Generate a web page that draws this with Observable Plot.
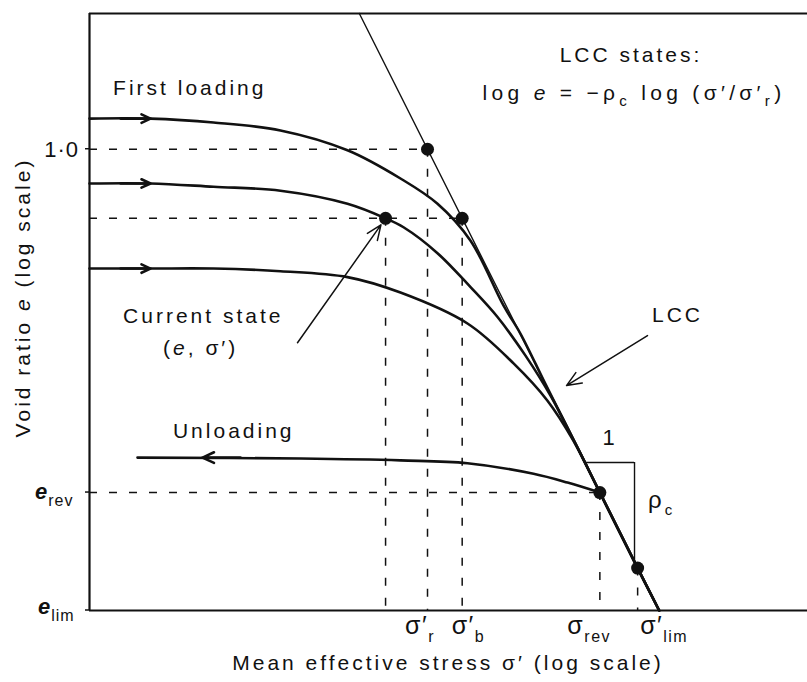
<!DOCTYPE html>
<html>
<head>
<meta charset="utf-8">
<script src="https://cdn.jsdelivr.net/npm/d3@7"></script>
<script src="https://cdn.jsdelivr.net/npm/@observablehq/plot@0.6"></script>
<style>
  html, body { margin: 0; padding: 0; background: #fff; }
  #chart svg { display: block; }
</style>
</head>
<body>
<div id="chart"></div>
<script>
// Limiting compression curve (LCC) model: log e = -ρc log(σ'/σ'r)
const rhoC = 0.4;
const stressDomain = [38.7, 38700];   // σ' (log scale)
const voidDomain = [0.41, 1.3];       // e  (log scale)

// Named states
const sigmaR = 1000, sigmaB = 1396, sigmaRev = 5250, sigmaLim = 7550;
const eOne = 1.0, eCurrent = 0.875, eRev = 0.515, eLim = 0.41, eAtSigmaLim = 0.445;
const sigmaCurrent = 668;

// LCC straight line, from the top of the frame to e_lim
const lccStress = [519, 9291];
const lccVoid = [1.3, 0.41];

// First-loading paths (each joins the LCC)
const load1Stress = [38.7, 69.6, 127.6, 243, 463, 771, 1101, 1513, 2079, 2447, 3112, 4153, 5250, 7550, 9291];
const load1Void   = [1.061, 1.061, 1.053, 1.037, 0.998, 0.945, 0.900, 0.838, 0.739, 0.700, 0.635, 0.566, 0.515, 0.445, 0.41];
const load2Stress = [38.7, 69.6, 127.6, 243, 463, 668, 794, 1101, 1513, 1961, 2567, 3266, 4153, 5250, 7550, 9291];
const load2Void   = [0.936, 0.936, 0.930, 0.923, 0.900, 0.875, 0.860, 0.818, 0.766, 0.723, 0.671, 0.621, 0.566, 0.515, 0.445, 0.41];
const load3Stress = [38.7, 69.6, 127.6, 243, 463, 771, 1469, 2288, 3172, 4074, 5250, 7550, 9291];
const load3Void   = [0.794, 0.794, 0.794, 0.790, 0.781, 0.758, 0.714, 0.661, 0.615, 0.569, 0.515, 0.445, 0.41];

// Unloading path from the reversal point
const unloadStress = [61.4, 295, 771, 1469, 2773, 3846, 5250];
const unloadVoid   = [0.551, 0.550, 0.548, 0.545, 0.534, 0.525, 0.515];

// Direction arrows on the paths
const loadArrowFrom = 52.2, loadArrowTo = 69.6;
const loadArrowVoid = [1.061, 0.936, 0.794];
const unloadArrowFrom = 165.4, unloadArrowTo = 114.8, unloadArrowVoid = 0.551;

// Marked states
const stateStress = [sigmaR, sigmaB, sigmaCurrent, sigmaRev, sigmaLim];
const stateVoid   = [eOne, eCurrent, eCurrent, eRev, eAtSigmaLim];

// Dashed guides
const guideHVoid = [eOne, eCurrent, eRev];
const guideHStress = [sigmaR, sigmaB, sigmaRev];
const guideVStress = [sigmaCurrent, sigmaR, sigmaB, sigmaRev, sigmaLim];
const guideVVoid = [eCurrent, eOne, eCurrent, eRev, eAtSigmaLim];

// Slope triangle on the LCC (run 1, rise ρc)
const triStress = [4545, 7327];
const triVoid = [0.5458, 0.4508];

// Axis tick labels ("|" separates the subscript)
const stressTicks = [sigmaR, sigmaB, sigmaRev, sigmaLim];
const stressTickLabels = ["σ′|r", "σ′|b", "σ|rev", "σ′|lim"];
const voidTicks = [eOne, eRev, eLim];
const voidTickLabels = ["1·0", "e|rev", "e|lim"];

const ink = "#111";
const font = "'Liberation Sans', Arial, Helvetica, sans-serif";
const dash = "8,12";

const zip = (xs, ys) => xs.map((x, i) => ({s: x, e: ys[i]}));

// Text with italic / subscript runs
function richText(g, x, y, parts, o = {}) {
  const size = o.size ?? 21;
  const subSize = o.subSize ?? size * 0.72;
  const t = g.append("text")
    .attr("x", x).attr("y", y)
    .attr("text-anchor", o.anchor ?? "start")
    .attr("font-size", size);
  if (o.spacing != null) t.style("letter-spacing", o.spacing + "px");
  if (o.rotate) t.attr("transform", `rotate(${o.rotate},${x},${y})`);
  let shift = 0;
  for (const p of parts) {
    const [str, kind = ""] = Array.isArray(p) ? p : [p];
    const flags = kind.split(" ");
    const sub = flags.includes("sub");
    const target = sub ? size * 0.3 : 0;
    const span = t.append("tspan").text(str);
    if (target !== shift) { span.attr("dy", target - shift); shift = target; }
    if (sub) span.attr("font-size", subSize);
    if (flags.includes("it")) span.attr("font-style", "italic");
    if (flags.includes("bold")) span.attr("font-weight", "bold");
  }
  return t;
}

function labels(index, scales, values, dims) {
  const {x, y} = scales;
  const g = d3.create("svg:g")
    .attr("fill", ink)
    .attr("font-family", font)
    .style("letter-spacing", "3px");
  const left = dims.marginLeft;
  const bottom = dims.height - dims.marginBottom;

  // y ticks and labels
  for (let i = 0; i < voidTicks.length; i++) {
    const py = y(voidTicks[i]);
    g.append("line").attr("x1", left - 4).attr("x2", left).attr("y1", py).attr("y2", py)
      .attr("stroke", ink).attr("stroke-width", 1.5);
    const [base, sub] = voidTickLabels[i].split("|");
    if (sub == null) {
      richText(g, left - 10, py + 8.5, [base], {anchor: "end", size: 22, spacing: 1});
    } else {
      const lx = i === 1 ? 35 : 38;
      const dy = i === 1 ? 7 : 4;
      richText(g, lx, py + dy, [[base, "it bold"], [sub, "sub"]], {size: 22, subSize: 16, spacing: 1});
    }
  }

  // x tick labels
  const nudge = [-22, -10, -32, 3];
  for (let i = 0; i < stressTicks.length; i++) {
    const [base, sub] = stressTickLabels[i].split("|");
    richText(g, x(stressTicks[i]) + nudge[i], bottom + 24, [[base], [sub, "sub"]],
      {size: 25, subSize: 16, spacing: 1.5});
  }

  // axis titles
  richText(g, (left + dims.width) / 2, dims.height - 12,
    ["Mean effective stress σ′ (log scale)"], {anchor: "middle"});
  const cy = (dims.marginTop + bottom) / 2 - 14;
  richText(g, 30, cy, ["Void ratio ", ["e", "it"], " (log scale)"], {anchor: "middle", rotate: -90});

  // annotations
  richText(g, x(48.8), y(1.1094), ["First loading"]);
  richText(g, x(7118), y(1.1825), ["LCC states:"], {anchor: "middle"});
  richText(g, x(7327), y(1.0987),
    ["log ", ["e", "it"], " = −ρ", ["c", "sub"], " log (σ′/σ′", ["r", "sub"], ")"],
    {anchor: "middle", spacing: 4.3});
  richText(g, x(53.7), y(0.7141), ["Current state"]);
  richText(g, x(78.9), y(0.6711), ["(", ["e", "it"], ", σ′)"]);
  richText(g, x(86.8), y(0.5715), ["Unloading"]);
  richText(g, x(8711), y(0.7155), ["LCC"]);
  richText(g, x(5816), y(0.5638), ["1"], {anchor: "middle", size: 22});
  richText(g, x(8383), y(0.4993), ["ρ", ["c", "sub"]], {size: 24, subSize: 15});
  return g.node();
}

const lineStyle = {x: "s", y: "e", stroke: ink, strokeWidth: 2.6, curve: "catmull-rom"};

const plot = Plot.plot({
  width: 807,
  height: 682,
  marginLeft: 89,
  marginRight: 0,
  marginTop: 13,
  marginBottom: 72,
  x: {type: "log", domain: stressDomain, axis: null},
  y: {type: "log", domain: voidDomain, axis: null},
  style: {background: "#fff", color: ink, fontFamily: font, overflow: "visible"},
  marks: [
    // dashed guides
    Plot.ruleY(zip(guideHStress, guideHVoid), {y: "e", x1: stressDomain[0], x2: "s", stroke: ink, strokeWidth: 1.5, strokeDasharray: dash}),
    Plot.ruleX(zip(guideVStress, guideVVoid), {x: "s", y1: "e", y2: voidDomain[0], stroke: ink, strokeWidth: 1.5, strokeDasharray: dash}),
    // slope triangle
    Plot.ruleY([triVoid[0]], {y: d => d, x1: triStress[0], x2: triStress[1], stroke: ink, strokeWidth: 1.4}),
    Plot.ruleX([triStress[1]], {x: d => d, y1: triVoid[0], y2: triVoid[1], stroke: ink, strokeWidth: 1.4}),
    // frame (top, bottom, left)
    Plot.ruleY(voidDomain, {stroke: ink, strokeWidth: 2}),
    Plot.ruleX([stressDomain[0]], {stroke: ink, strokeWidth: 2.2}),
    // LCC
    Plot.line(zip(lccStress, lccVoid), {x: "s", y: "e", stroke: ink, strokeWidth: 1.4}),
    // loading and unloading paths
    Plot.line(zip(load1Stress, load1Void), lineStyle),
    Plot.line(zip(load2Stress, load2Void), lineStyle),
    Plot.line(zip(load3Stress, load3Void), lineStyle),
    Plot.line(zip(unloadStress, unloadVoid), lineStyle),
    // direction arrows
    Plot.arrow(loadArrowVoid, {x1: loadArrowFrom, x2: loadArrowTo, y1: d => d, y2: d => d,
      stroke: ink, strokeWidth: 2.6, headLength: 20, headAngle: 50}),
    Plot.arrow([unloadArrowVoid], {x1: unloadArrowFrom, x2: unloadArrowTo, y1: d => d, y2: d => d,
      stroke: ink, strokeWidth: 2.6, headLength: 20, headAngle: 50}),
    // pointer arrows
    Plot.arrow([{s1: 286.3, e1: 0.688, s2: sigmaCurrent, e2: eCurrent}],
      {x1: "s1", y1: "e1", x2: "s2", y2: "e2", stroke: ink, strokeWidth: 1.5, headLength: 16, headAngle: 45, insetEnd: 8}),
    Plot.arrow([{s1: 8303, e1: 0.6976, s2: 3808, e2: 0.6333}],
      {x1: "s1", y1: "e1", x2: "s2", y2: "e2", stroke: ink, strokeWidth: 1.5, headLength: 16, headAngle: 45}),
    // states
    Plot.dot(zip(stateStress, stateVoid), {x: "s", y: "e", r: 6.5, fill: ink}),
    // text
    labels
  ]
});

document.getElementById("chart").append(plot);
</script>
</body>
</html>
